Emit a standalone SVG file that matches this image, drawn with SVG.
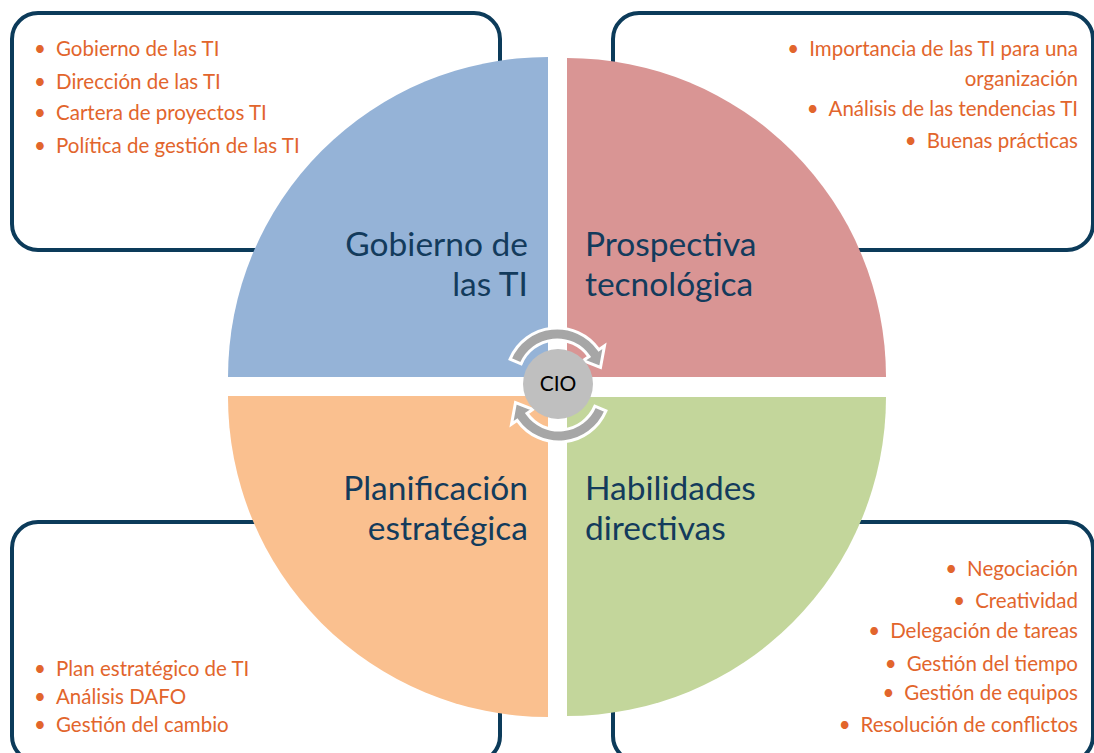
<svg xmlns="http://www.w3.org/2000/svg" width="1094" height="753" viewBox="0 0 1094 753">
<style>
.box{fill:#ffffff;stroke:#0c3b5a;stroke-width:4}
.item{font-family:Lato,"Liberation Sans",sans-serif;font-size:20.5px;fill:#e2652c}
.lbl{font-family:Lato,"Liberation Sans",sans-serif;font-size:33.5px;fill:#133b5c}
.arr{fill:#a6a6a6;stroke:#ffffff;stroke-width:3;stroke-linejoin:miter}
</style>
<rect width="1094" height="753" fill="#ffffff"/>
<g id="box-tl"><rect class="box" x="12" y="13" width="488" height="237" rx="26"/>
<text class="item"><tspan x="34" y="56">•</tspan><tspan x="56" y="56">Gobierno de las TI</tspan><tspan x="34" y="89">•</tspan><tspan x="56" y="89">Dirección de las TI</tspan><tspan x="34" y="120">•</tspan><tspan x="56" y="120">Cartera de proyectos TI</tspan><tspan x="34" y="153">•</tspan><tspan x="56" y="153">Política de gestión de las TI</tspan></text></g>
<g id="box-tr"><rect class="box" x="613" y="13" width="480" height="237" rx="26"/>
<text class="item" text-anchor="end" x="1078" y="56"><tspan>•</tspan><tspan dx="10">Importancia de las TI para una</tspan></text>
<text class="item" text-anchor="end" x="1078" y="86">organización</text>
<text class="item" text-anchor="end" x="1078" y="116"><tspan>•</tspan><tspan dx="10">Análisis de las tendencias TI</tspan></text>
<text class="item" text-anchor="end" x="1078" y="148"><tspan>•</tspan><tspan dx="10">Buenas prácticas</tspan></text></g>
<g id="box-bl"><rect class="box" x="12" y="522" width="488" height="240" rx="26"/>
<text class="item"><tspan x="34" y="676">•</tspan><tspan x="56" y="676">Plan estratégico de TI</tspan><tspan x="34" y="704">•</tspan><tspan x="56" y="704">Análisis DAFO</tspan><tspan x="34" y="732">•</tspan><tspan x="56" y="732">Gestión del cambio</tspan></text></g>
<g id="box-br"><rect class="box" x="613" y="522" width="480" height="240" rx="26"/>
<text class="item" text-anchor="end" x="1078" y="576"><tspan>•</tspan><tspan dx="10">Negociación</tspan></text>
<text class="item" text-anchor="end" x="1078" y="608"><tspan>•</tspan><tspan dx="10">Creatividad</tspan></text>
<text class="item" text-anchor="end" x="1078" y="638"><tspan>•</tspan><tspan dx="10">Delegación de tareas</tspan></text>
<text class="item" text-anchor="end" x="1078" y="671"><tspan>•</tspan><tspan dx="10">Gestión del tiempo</tspan></text>
<text class="item" text-anchor="end" x="1078" y="700"><tspan>•</tspan><tspan dx="10">Gestión de equipos</tspan></text>
<text class="item" text-anchor="end" x="1078" y="732"><tspan>•</tspan><tspan dx="10">Resolución de conflictos</tspan></text></g>
<g id="q-gobierno"><path d="M548,377 L228,377 A320,320 0 0 1 548,57 Z" fill="#95b3d7"/>
<text class="lbl" text-anchor="end"><tspan x="528" y="256">Gobierno de</tspan><tspan x="528" y="296">las TI</tspan></text></g>
<g id="q-prospectiva"><path d="M567,377 L567,58 A319,319 0 0 1 886,377 Z" fill="#d99594"/>
<text class="lbl"><tspan x="585" y="256">Prospectiva</tspan><tspan x="585" y="296">tecnológica</tspan></text></g>
<g id="q-planificacion"><path d="M548,396 L548,717 A320,320 0 0 1 228,396 Z" fill="#fac08f"/>
<text class="lbl" text-anchor="end"><tspan x="528" y="500">Planificación</tspan><tspan x="528" y="540">estratégica</tspan></text></g>
<g id="q-habilidades"><path d="M567,397 L886,397 A319,319 0 0 1 567,716 Z" fill="#c3d69b"/>
<text class="lbl"><tspan x="585" y="500">Habilidades</tspan><tspan x="585" y="540">directivas</tspan></text></g>
<g id="connectors">
<path id="arrow-top" class="arr" d="M510.1,359.1 A51,51 0 0 1 598.8,349.7 L604.5,345.8 L600.5,367.4 L583.2,360.6 L589.0,356.6 A39,39 0 0 0 521.1,363.8 Z"/>
<use href="#arrow-top" transform="rotate(180 558 385)"/>
</g>
<g id="cio"><circle cx="558" cy="384" r="35" fill="#bfbfbf"/>
<text x="558" y="391" text-anchor="middle" font-family="Lato,'Liberation Sans',sans-serif" font-size="21" fill="#000000">CIO</text></g>
</svg>
